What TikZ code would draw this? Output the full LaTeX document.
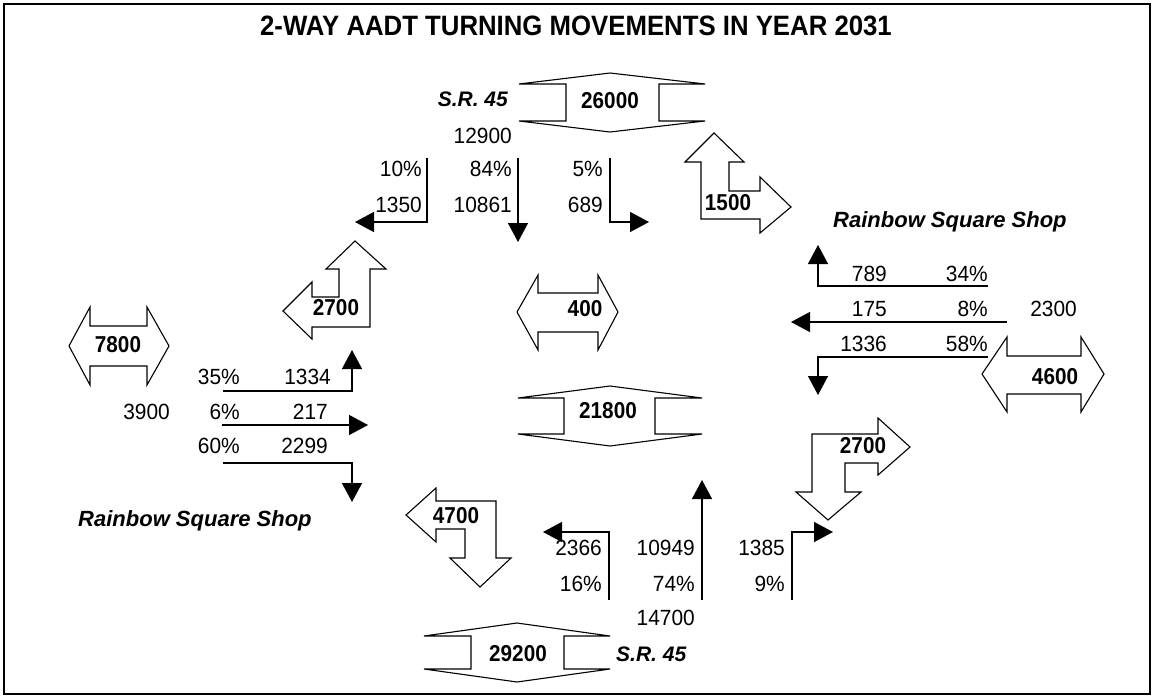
\documentclass[tikz,border=0pt]{standalone}
\usepackage{fontspec}
\setmainfont{Liberation Sans}
\newfontfamily\numfont[FakeStretch=0.95]{Liberation Sans}
\newfontfamily\bnumfont[FakeStretch=0.9]{Liberation Sans}
\newfontfamily\titlefont[FakeStretch=0.92]{Liberation Sans}
\usetikzlibrary{arrows.meta}
\begin{document}
\begin{tikzpicture}[x=1pt,y=-1pt,
  road/.style={draw=black,line width=1.1pt,fill=white,line join=miter},
  mv/.style={draw=black,line width=1.4pt,-{Triangle[length=19pt,width=20pt]}},
  num/.style={font=\numfont\fontsize{22}{22}\selectfont,inner sep=0pt,anchor=east},
  bnum/.style={font=\bnumfont\bfseries\fontsize{23}{23}\selectfont,inner sep=0pt},
  lab/.style={font=\bfseries\itshape\fontsize{22}{22}\selectfont,inner sep=0pt},
  srlab/.style={font=\bfseries\itshape\fontsize{21}{21}\selectfont,inner sep=0pt},
]
\useasboundingbox (0,0) rectangle (1158,696);
\draw[line width=1.5pt] (4,4) rectangle (1150,694);

% title
\node[font=\titlefont\bfseries\fontsize{28}{28}\selectfont,inner sep=0pt] (title) at (576,26) {2-WAY AADT TURNING MOVEMENTS IN YEAR 2031};

% ---- road (vertical double arrows) ----
\draw[road] (519,84) -- (610,73) -- (705,84) -- (659,84) -- (659,121) -- (705,121) -- (610,132) -- (519,121) -- (566,121) -- (566,84) -- cycle;
\node[bnum] (r26000) at (610,101) {26000};
\draw[road] (518,398) -- (610,386) -- (702,398) -- (655,398) -- (655,434) -- (702,434) -- (610,446) -- (518,434) -- (564,434) -- (564,398) -- cycle;
\node[bnum] (r21800) at (608,411) {21800};
\draw[road] (424,636) -- (517,623) -- (610,636) -- (564,636) -- (564,669) -- (610,669) -- (517,682) -- (424,669) -- (471,669) -- (471,636) -- cycle;
\node[bnum] (r29200) at (518,654) {29200};

% ---- horizontal double arrows ----
\draw[road] (69,346) -- (90,307) -- (90,326) -- (147,326) -- (147,307) -- (169,346) -- (147,385) -- (147,366) -- (90,366) -- (90,385) -- cycle;
\node[bnum] (r7800) at (118,345) {7800};
\draw[road] (517,312) -- (538,275) -- (538,293) -- (598,293) -- (598,275) -- (618,312) -- (598,350) -- (598,332) -- (538,332) -- (538,350) -- cycle;
\node[bnum] (r400) at (585,309) {400};
\draw[road] (982,374) -- (1007,337) -- (1007,356) -- (1081,356) -- (1081,337) -- (1104,374) -- (1081,412) -- (1081,394) -- (1007,394) -- (1007,412) -- cycle;
\node[bnum] (r4600) at (1055,377) {4600};

% ---- L-shaped block arrows ----
\draw[road] (714,133) -- (744,162) -- (729,162) -- (729,191) -- (760,191) -- (760,177) -- (791,207) -- (760,233) -- (760,219) -- (701,219) -- (701,162) -- (685,162) -- cycle;
\node[bnum] (l1500) at (728,203) {1500};
\draw[road] (355,241) -- (386,269) -- (370,269) -- (370,327) -- (312,327) -- (312,339) -- (283,311) -- (312,282) -- (312,297) -- (339,297) -- (339,269) -- (326,269) -- cycle;
\node[bnum] (l2700a) at (336,308) {2700};
\draw[road] (910,447) -- (878,475) -- (878,463) -- (845,463) -- (845,492) -- (861,492) -- (828,520) -- (796,492) -- (812,492) -- (812,434) -- (878,434) -- (878,418) -- cycle;
\node[bnum] (l2700b) at (863,446) {2700};
\draw[road] (406,515) -- (436,488) -- (436,501) -- (496,501) -- (496,558) -- (511,558) -- (480,587) -- (450,558) -- (465,558) -- (465,529) -- (436,529) -- (436,542) -- cycle;
\node[bnum] (l4700) at (456,516) {4700};

% ---- labels ----
\node[srlab,anchor=east] (srtop) at (508,99) {S.R. 45};
\node[srlab,anchor=west] (srbot) at (616,654) {S.R. 45};
\node[lab,anchor=base west] (shopL) at (78,526) {Rainbow Square Shop};
\node[lab,anchor=base west] (shopR) at (833,227) {Rainbow Square Shop};

% ---- top approach ----
\node[num] (n12900) at (512,136) {12900};
\node[num] (p10) at (422,169) {10\%};
\node[num] (v1350) at (422,205) {1350};
\node[num] (p84) at (512,169) {84\%};
\node[num] (v10861) at (512,205) {10861};
\node[num] (p5) at (603,169) {5\%};
\node[num] (v689) at (603,205) {689};
\coordinate (tLs) at (427,158); \coordinate (tLc) at (427,222); \coordinate (tLe) at (355,222);
\coordinate (tTs) at (518,158); \coordinate (tTe) at (518,242);
\coordinate (tRs) at (610,158); \coordinate (tRc) at (610,222); \coordinate (tRe) at (649,222);
\draw[mv] (tLs) -- (tLc) -- (tLe);
\draw[mv] (tTs) -- (tTe);
\draw[mv] (tRs) -- (tRc) -- (tRe);

% ---- left approach ----
\node[num] (p35) at (240,377) {35\%};
\node[num] (v1334) at (331,377) {1334};
\node[num] (n3900) at (170,412) {3900};
\node[num] (p6) at (240,412) {6\%};
\node[num] (v217) at (328,412) {217};
\node[num] (p60) at (240,446) {60\%};
\node[num] (v2299) at (328,446) {2299};
\coordinate (lLs) at (223,391); \coordinate (lLc) at (352,391); \coordinate (lLe) at (352,350);
\coordinate (lTs) at (222,425); \coordinate (lTe) at (368,425);
\coordinate (lRs) at (223,463); \coordinate (lRc) at (352,463); \coordinate (lRe) at (352,502);
\draw[mv] (lLs) -- (lLc) -- (lLe);
\draw[mv] (lTs) -- (lTe);
\draw[mv] (lRs) -- (lRc) -- (lRe);

% ---- right approach ----
\node[num] (v789) at (887,274) {789};
\node[num] (p34) at (988,274) {34\%};
\node[num] (v175) at (887,309) {175};
\node[num] (p8) at (988,309) {8\%};
\node[num] (n2300) at (1077,309) {2300};
\node[num] (v1336) at (887,344) {1336};
\node[num] (p58) at (988,344) {58\%};
\coordinate (rRs) at (988,286); \coordinate (rRc) at (818,286); \coordinate (rRe) at (818,245);
\coordinate (rTs) at (1007,322); \coordinate (rTe) at (791,322);
\coordinate (rLs) at (988,357); \coordinate (rLc) at (818,357); \coordinate (rLe) at (818,395);
\draw[mv] (rRs) -- (rRc) -- (rRe);
\draw[mv] (rTs) -- (rTe);
\draw[mv] (rLs) -- (rLc) -- (rLe);

% ---- bottom approach ----
\node[num] (v2366) at (602,548) {2366};
\node[num] (p16) at (602,584) {16\%};
\node[num] (v10949) at (695,548) {10949};
\node[num] (p74) at (695,584) {74\%};
\node[num] (v1385) at (785,548) {1385};
\node[num] (p9) at (785,584) {9\%};
\node[num] (n14700) at (695,618) {14700};
\coordinate (bLs) at (609,600); \coordinate (bLc) at (609,532); \coordinate (bLe) at (543,532);
\coordinate (bTs) at (702,600); \coordinate (bTe) at (702,480);
\coordinate (bRs) at (792,600); \coordinate (bRc) at (792,532); \coordinate (bRe) at (833,532);
\draw[mv] (bLs) -- (bLc) -- (bLe);
\draw[mv] (bTs) -- (bTe);
\draw[mv] (bRs) -- (bRc) -- (bRe);
\end{tikzpicture}
\end{document}
